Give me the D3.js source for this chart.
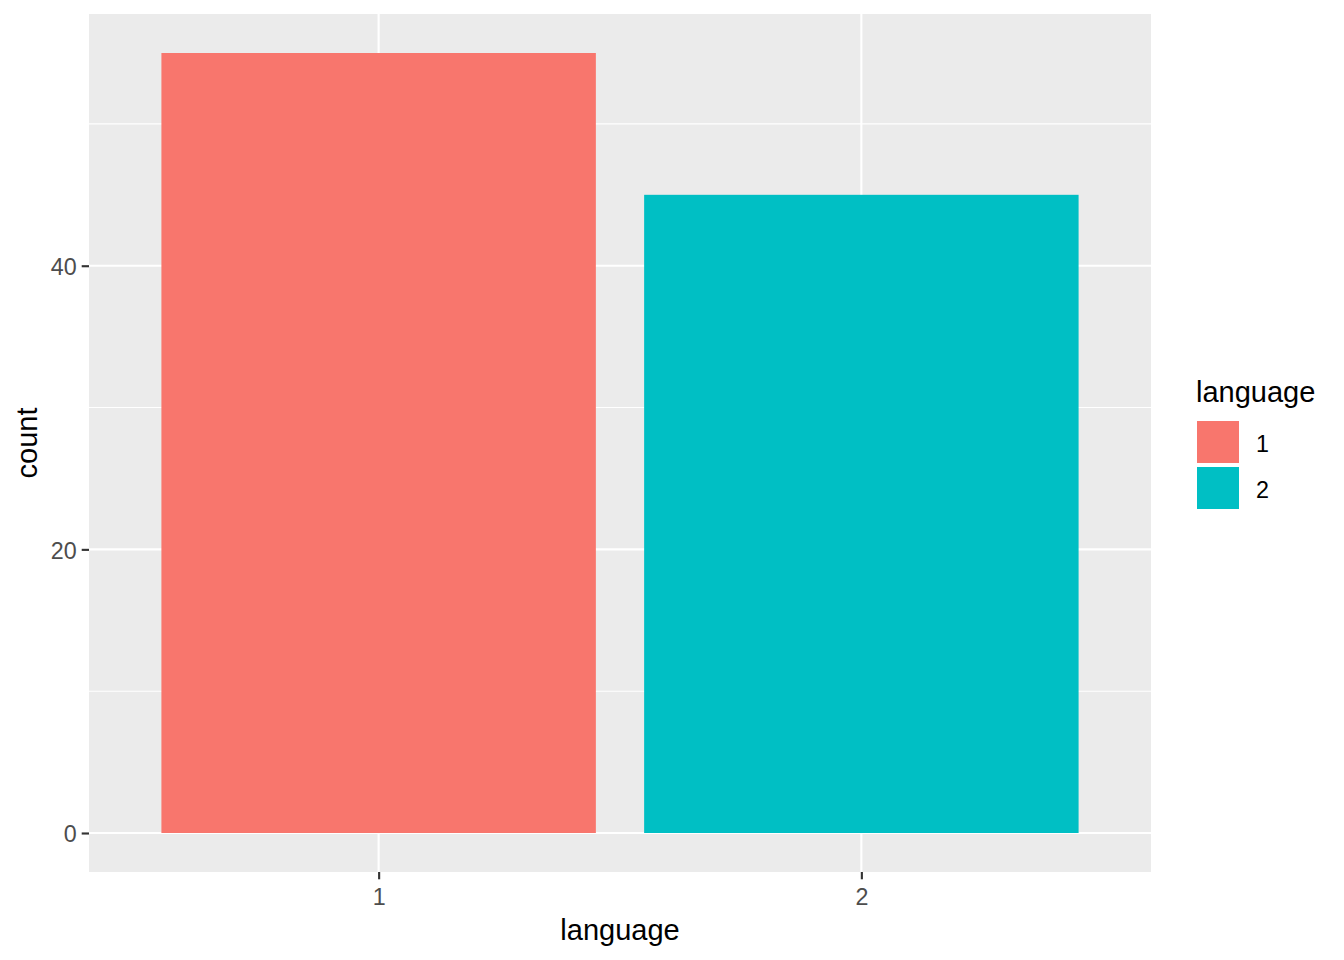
<!DOCTYPE html>
<html><head><meta charset="utf-8">
<script src="https://cdn.jsdelivr.net/npm/d3@7"></script>
<style>body{margin:0;background:#fff}svg{display:block;font-family:"Liberation Sans",Arial,sans-serif}</style>
</head><body>
<svg id="c" width="1344" height="960"></svg>
<script>
const categories = ["1", "2"];
const counts = [55, 45];
const colors = ["#F8766D", "#00BFC4"];
const yTicks = [0, 20, 40];
const yMinor = [10, 30, 50];

const svg = d3.select("#c");
const L = 89, R = 1151, T = 14, B = 872;
const x = d3.scaleLinear().domain([0.4, 2.6]).range([L, R]);
const y = d3.scaleLinear().domain([-2.75, 57.75]).range([B, T]);

svg.append("rect").attr("x", L).attr("y", T).attr("width", R - L).attr("height", B - T).attr("fill", "#EBEBEB");
const g = svg.append("g");
g.selectAll(".ymin").data(yMinor).join("line").attr("x1", L).attr("x2", R)
  .attr("y1", d => y(d)).attr("y2", d => y(d)).attr("stroke", "#fff").attr("stroke-width", 1.07);
g.selectAll(".ymaj").data(yTicks).join("line").attr("x1", L).attr("x2", R)
  .attr("y1", d => y(d)).attr("y2", d => y(d)).attr("stroke", "#fff").attr("stroke-width", 2.13);
g.selectAll(".xmaj").data(categories).join("line").attr("y1", T).attr("y2", B)
  .attr("x1", (d, i) => x(i + 1)).attr("x2", (d, i) => x(i + 1)).attr("stroke", "#fff").attr("stroke-width", 2.13);

g.selectAll(".bar").data(counts).join("rect")
  .attr("x", (d, i) => x(i + 1 - 0.45)).attr("width", (d, i) => x(i + 1 + 0.45) - x(i + 1 - 0.45))
  .attr("y", d => y(d)).attr("height", d => y(0) - y(d)).attr("fill", (d, i) => colors[i]);

// y axis
const ya = d3.axisLeft(y).tickValues(yTicks).tickSize(7.3).tickPadding(5);
const yg = svg.append("g").attr("transform", `translate(${L},0)`).call(ya);
yg.select(".domain").remove();
yg.selectAll("line").attr("stroke", "#333").attr("stroke-width", 2.13);
yg.selectAll("text").attr("fill", "#4D4D4D").attr("dy", "0.38em").style("font-size", "23.3px").attr("font-family", null);

// x axis
const xa = d3.axisBottom(x).tickValues([1, 2]).tickFormat((d, i) => categories[i]).tickSize(7.3).tickPadding(9);
const xg = svg.append("g").attr("transform", `translate(0,${B})`).call(xa);
xg.select(".domain").remove();
xg.selectAll("line").attr("stroke", "#333").attr("stroke-width", 2.13);
xg.selectAll("text").attr("fill", "#4D4D4D").style("font-size", "23.3px").attr("font-family", null);

svg.append("text").attr("x", (L + R) / 2).attr("y", 940).attr("text-anchor", "middle")
  .style("font-size", "29px").attr("fill", "#000").text("language");
svg.append("text").attr("transform", `translate(37,${(T + B) / 2}) rotate(-90)`).attr("text-anchor", "middle")
  .style("font-size", "29px").attr("fill", "#000").text("count");

// legend
const lg = svg.append("g");
lg.append("text").attr("x", 1196).attr("y", 402).style("font-size", "29px").text("language");
categories.forEach((c, i) => {
  const ky = 420 + i * 46;
  lg.append("rect").attr("x", 1196).attr("y", ky).attr("width", 44).attr("height", 44).attr("fill", "#fff");
  lg.append("rect").attr("x", 1197).attr("y", ky + 1).attr("width", 42).attr("height", 42).attr("fill", colors[i]);
  lg.append("text").attr("x", 1256).attr("y", ky + 24).attr("dy", "0.35em").style("font-size", "23.3px").text(c);
});
</script>
</body></html>
